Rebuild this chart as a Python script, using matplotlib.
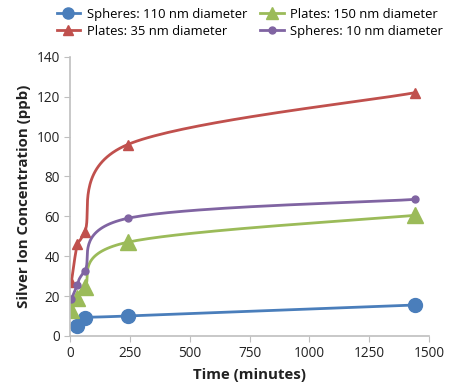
import numpy as np
import matplotlib.pyplot as plt

plt.rcParams['font.family'] = ['Open Sans', 'DejaVu Sans']

# time points (minutes) and measured concentrations (ppb)
time = [5, 30, 60, 240, 1440]
sph110_t = [30, 60, 240, 1440]
sph110 = [5, 9, 10, 15.5]
pl35 = [27, 46, 52, 96, 122]
pl150 = [13, 19, 24.5, 47, 60.5]
sph10 = [18.5, 25.5, 32.5, 59, 68.5]

labels = ['Spheres: 110 nm diameter', 'Plates: 35 nm diameter',
          'Plates: 150 nm diameter', 'Spheres: 10 nm diameter']
colors = ['#4a7ebb', '#c0504d', '#9bbb59', '#8064a2']


def smooth(x, y, n=40, t=0.5):
    # Excel-like smoothed line (cardinal spline through the points)
    x = np.asarray(x, float)
    y = np.asarray(y, float)
    px, py = [], []
    for i in range(len(x) - 1):
        x0, y0 = (x[i - 1], y[i - 1]) if i > 0 else (x[i], y[i])
        x3, y3 = (x[i + 2], y[i + 2]) if i + 2 < len(x) else (x[i + 1], y[i + 1])
        c1x = x[i] + (x[i + 1] - x0) * t / 3
        c1y = y[i] + (y[i + 1] - y0) * t / 3
        c2x = x[i + 1] - (x3 - x[i]) * t / 3
        c2y = y[i + 1] - (y3 - y[i]) * t / 3
        s = np.linspace(0, 1, n)
        bx = (1 - s) ** 3 * x[i] + 3 * (1 - s) ** 2 * s * c1x + 3 * (1 - s) * s ** 2 * c2x + s ** 3 * x[i + 1]
        by = (1 - s) ** 3 * y[i] + 3 * (1 - s) ** 2 * s * c1y + 3 * (1 - s) * s ** 2 * c2y + s ** 3 * y[i + 1]
        px.extend(bx)
        py.extend(by)
    return px, py


fig = plt.figure(figsize=(4.5, 3.87), dpi=100)
ax = fig.add_axes([0.156, 0.132, 0.797, 0.721])

series = [(sph110_t, sph110, 'o', 10), (time, pl35, '^', 7),
          (time, pl150, '^', 12), (time, sph10, 'o', 5)]
handles = []
for (xs, ys, m, ms), lab, c in zip(series, labels, colors):
    sx, sy = smooth(xs, ys)
    ax.plot(sx, sy, color=c, lw=2)
    ax.plot(xs, ys, ls='none', marker=m, ms=ms, color=c)
    h, = ax.plot([], [], color=c, lw=2, marker=m, ms=min(ms, 8), label=lab)
    handles.append(h)

ax.set_xlim(0, 1500)
ax.set_ylim(0, 140)
ax.set_xticks([0, 250, 500, 750, 1000, 1250, 1500])
ax.set_yticks(range(0, 141, 20))
for s in ['top', 'right']:
    ax.spines[s].set_visible(False)
for s in ['left', 'bottom']:
    ax.spines[s].set_color('#bfbfbf')
    ax.spines[s].set_linewidth(1.2)
ax.tick_params(colors='#bfbfbf', labelcolor='#222222', labelsize=9.8, length=4)
ax.set_xlabel('Time (minutes)', fontsize=10.8, fontweight='bold', color='#222222', labelpad=5)
ax.set_ylabel('Silver Ion Concentration (ppb)', fontsize=10.8, fontweight='bold', color='#222222')

fig.legend(handles=handles, ncol=2, loc='upper center', bbox_to_anchor=(0.555, 1.01),
           frameon=False, fontsize=9.4, handlelength=1.8, columnspacing=1.0,
           handletextpad=0.5, labelspacing=0.3)

fig.savefig('out.png', dpi=100)
